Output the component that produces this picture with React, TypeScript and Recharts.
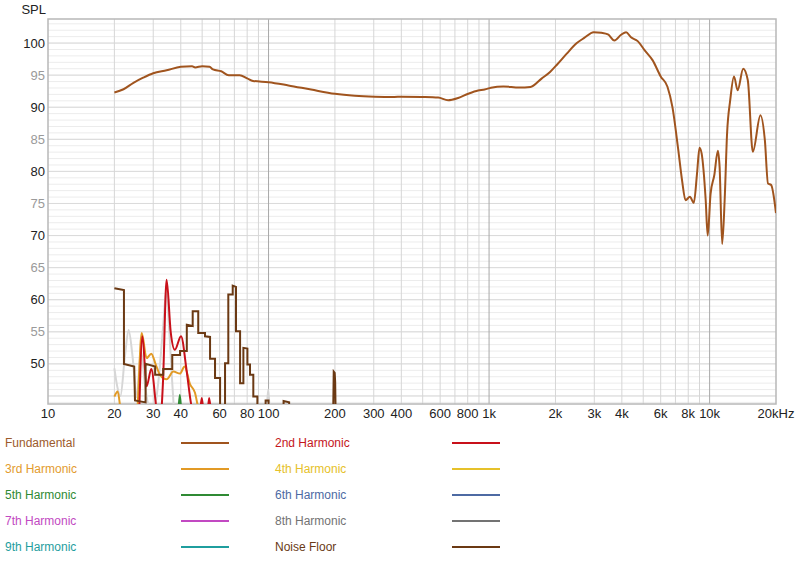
import React from "react";
import { LineChart, Line, XAxis, YAxis, CartesianGrid, ReferenceArea } from "recharts";

// ---------- data (frequency Hz, SPL dB) ----------
const fundamental: [number, number][] = [
  [20, 92.3], [22, 92.8], [24.4, 93.8], [27, 94.6], [30, 95.3], [34.5, 95.75], [40, 96.3],
  [45, 96.4], [46.5, 96.2], [50, 96.4], [54, 96.3], [56, 95.9], [61, 95.6], [66, 95.0],
  [74, 95.0], [80, 94.5], [85, 94.1], [100, 93.9], [123, 93.4], [156, 92.75], [200, 92.1],
  [246, 91.8], [303, 91.65], [372, 91.6], [400, 91.65], [494, 91.6], [588, 91.5], [652, 91.1],
  [724, 91.45], [804, 92.1], [892, 92.6], [955, 92.75], [1020, 93.05], [1160, 93.25],
  [1370, 93.06], [1540, 93.16], [1730, 94.46], [1890, 95.5], [2040, 96.7], [2250, 98.35],
  [2500, 100.0], [2700, 100.8], [2980, 101.7], [3230, 101.6], [3460, 101.35], [3700, 100.4],
  [3970, 101.3], [4180, 101.7], [4400, 100.9], [4720, 100.3], [5070, 98.9], [5520, 97.3],
  [6000, 94.8], [6440, 93.2], [6780, 90.05], [7200, 83.5], [7500, 78.6], [7780, 75.5],
  [8140, 76.05], [8480, 75.1], [8770, 79.7], [9000, 83.7], [9200, 82.8], [9600, 75.5],
  [9800, 70.0], [10100, 76.5], [10500, 79.4], [10900, 83.2], [11100, 80.7], [11400, 68.7],
  [11700, 75.5], [12000, 85.9], [12400, 91.1], [12900, 94.8], [13400, 92.65], [14200, 96.0],
  [14900, 94.2], [15700, 83.05], [17000, 88.75], [17800, 84.9], [18400, 78.1], [19000, 77.9],
  [20000, 73.5],
];

const harmonic2: [number, number][] = [
  [25.9, 42], [26.8, 54.3], [28.0, 46.5], [29.4, 49.2], [31.2, 42.5], [32.3, 41],
  [33.2, 47], [34.5, 63.1], [36.0, 55], [37.6, 52.2], [40.1, 54.3], [42.5, 49],
  [44.7, 43.5], [46.5, 42], [48.7, 42], [49.8, 44.7], [51.0, 42], [52.7, 42],
  [53.8, 44.7], [55.0, 42],
];

const harmonic3: [number, number][] = [
  [20, 44.9], [20.7, 45.7], [21.6, 42], [25.2, 42], [26.6, 54.8], [28.0, 50.9],
  [29.4, 51.6], [30.8, 49.9], [32.2, 48.3], [34.5, 47.6], [37.0, 48.8], [39.7, 48.5],
  [41.6, 49.6], [44.1, 46.8], [46.4, 45.5], [48.0, 43.2], [50, 42],
];

const harmonic4: [number, number][] = [];
const harmonic5: [number, number][] = [[38.9, 42], [39.6, 45.2], [40.3, 42]];
const harmonic6: [number, number][] = [];
const harmonic7: [number, number][] = [];
const harmonic8: [number, number][] = [
  [20, 49.3], [20.6, 46.5], [21.3, 45], [22.3, 51], [23.2, 55.3], [24.2, 51],
  [25.2, 44.8], [26.4, 52], [27.6, 46.5], [28.6, 43.5], [30.3, 43], [31.6, 47],
  [33.3, 56], [34.4, 61.5], [35.5, 55], [36.6, 47], [37.6, 42],
  [97.5, 42], [99.7, 46], [101.5, 42],
];
const harmonic9: [number, number][] = [];

const noiseFloor: [number, number][] = [
  [20, 61.8], [22.1, 61.5], [22.1, 50.0], [24.6, 49.6], [24.8, 44.3], [27.7, 44.0],
  [27.7, 50.0], [30.6, 49.6], [30.6, 48.3], [33.3, 48.3], [33.3, 49.2], [36.6, 49.2],
  [36.6, 51.4], [39.7, 51.4], [39.7, 52.0], [42.6, 52.0], [42.6, 56.1], [45.3, 55.9],
  [45.3, 58.2], [48.0, 58.2], [48.0, 54.8], [51.5, 54.8], [51.5, 54.3], [54.3, 54.2],
  [54.3, 50.8], [57.2, 50.8], [57.2, 47.8], [60.3, 47.8], [60.3, 40], [63.5, 40],
  [63.5, 50.1], [65.7, 50.1], [65.7, 60.8], [68.8, 60.8], [68.8, 62.2], [71.2, 62.0],
  [71.2, 55.1], [74.3, 55.1], [74.3, 47.0], [76.9, 47.0], [76.9, 52.5], [80.2, 52.4],
  [80.2, 49.9], [82.4, 49.9], [82.4, 48.3], [85.3, 48.3], [85.3, 44.9], [89.0, 44.9],
  [89.0, 40], [97, 40], [97, 44.3], [100, 44.3], [100, 40], [117, 40], [117, 44.2],
  [124, 44.0], [124, 40], [196, 40], [197.5, 48.8], [199.5, 48.6], [200.5, 47.2],
  [202, 40], [210, 40],
];

const xTicks = [10, 20, 30, 40, 60, 80, 100, 200, 300, 400, 600, 800, 1000, 2000, 3000, 4000, 6000, 8000, 10000, 20000];
const yTicks = [50, 55, 60, 65, 70, 75, 80, 85, 90, 95, 100];
const minorX = [20, 30, 40, 50, 60, 70, 80, 90, 200, 300, 400, 500, 600, 700, 800, 900, 2000, 3000, 4000, 5000, 6000, 7000, 8000, 9000];
const decadeX = [100, 1000, 10000];
const minorY = Array.from({ length: 60 }, (_, i) => 44 + i);
const majorY = [45, 50, 55, 60, 65, 70, 75, 80, 85, 90, 95, 100];

const X_DOMAIN: [number, number] = [10, 20000];
const Y_DOMAIN: [number, number] = [43.75, 103.75];

type Series = { name: string; data: [number, number][]; line: string; legend: string; type: "monotone" | "linear" };

const series: Series[] = [
  { name: "Fundamental", data: fundamental, line: "#a0541e", legend: "#9c5a2c", type: "monotone" },
  { name: "2nd Harmonic", data: harmonic2, line: "#c8101a", legend: "#c4161c", type: "monotone" },
  { name: "3rd Harmonic", data: harmonic3, line: "#e29a25", legend: "#e39b2e", type: "monotone" },
  { name: "4th Harmonic", data: harmonic4, line: "#e6c12a", legend: "#e6c12a", type: "monotone" },
  { name: "5th Harmonic", data: harmonic5, line: "#2f8a34", legend: "#2f8a34", type: "monotone" },
  { name: "6th Harmonic", data: harmonic6, line: "#4d6aa3", legend: "#4d6aa3", type: "monotone" },
  { name: "7th Harmonic", data: harmonic7, line: "#c249c2", legend: "#c249c2", type: "monotone" },
  { name: "8th Harmonic", data: harmonic8, line: "#d6d6d6", legend: "#737373", type: "monotone" },
  { name: "9th Harmonic", data: harmonic9, line: "#1f9e9e", legend: "#1f9e9e", type: "monotone" },
  { name: "Noise Floor", data: noiseFloor, line: "#6b3913", legend: "#6a3a16", type: "linear" },
];

const drawOrder = [0, 7, 2, 3, 4, 5, 6, 8, 1, 9];

const FONT = "'Liberation Sans', Arial, Helvetica, sans-serif";

const fmtX = (v: number) => {
  if (v === 20000) return "20kHz";
  if (v >= 1000) return `${v / 1000}k`;
  return `${v}`;
};

const XTick = (props: any) => {
  const { x, y, payload } = props;
  return (
    <text x={x} y={y} dy={14} textAnchor="middle" fontSize={13} fontFamily={FONT} fill="#222">
      {fmtX(payload.value)}
    </text>
  );
};

const YTick = (props: any) => {
  const { x, y, payload } = props;
  const v = payload.value as number;
  return (
    <text x={x} y={y} dy={4.5} textAnchor="end" fontSize={13} fontFamily={FONT} fill={v % 10 === 0 ? "#222" : "#9a9a9a"}>
      {v}
    </text>
  );
};

export default function App() {
  return (
    <div style={{ position: "absolute", left: 0, top: 0, width: 800, height: 562, background: "#fff", fontFamily: FONT }}>
      <div style={{ position: "absolute", right: 754, top: 2, fontSize: 13, color: "#222", lineHeight: "16px" }}>SPL</div>
      <LineChart width={800} height={562} margin={{ top: 19, right: 24, left: 0, bottom: 128 }}>
        <CartesianGrid horizontalValues={minorY} vertical={false} stroke="#ececec" strokeWidth={1} />
        <CartesianGrid horizontalValues={majorY} vertical={false} stroke="#dadada" strokeWidth={1} />
        <CartesianGrid verticalValues={minorX} horizontal={false} stroke="#d6d6d6" strokeWidth={1} />
        <CartesianGrid verticalValues={decadeX} horizontal={false} stroke="#a9a9a9" strokeWidth={1} />
        <XAxis
          dataKey="f"
          type="number"
          scale="log"
          domain={X_DOMAIN}
          allowDataOverflow
          ticks={xTicks}
          tick={<XTick />}
          tickLine={false}
          axisLine={false}
          tickSize={0}
          tickMargin={0}
          height={30}
          interval={0}
        />
        <YAxis
          type="number"
          domain={Y_DOMAIN}
          allowDataOverflow
          ticks={yTicks}
          tick={<YTick />}
          tickLine={false}
          axisLine={false}
          tickSize={0}
          tickMargin={3}
          width={48}
          interval={0}
        />
        <ReferenceArea x1={X_DOMAIN[0]} x2={X_DOMAIN[1]} y1={Y_DOMAIN[0]} y2={Y_DOMAIN[1]} fill="none" stroke="#b8b8b8" strokeWidth={1.5} fillOpacity={0} />
        {drawOrder.map((i) => {
          const s = series[i];
          return (
            <Line
              key={s.name}
              data={s.data.map(([f, v]) => ({ f, v }))}
              dataKey="v"
              name={s.name}
              type={s.type}
              stroke={s.line}
              strokeWidth={2}
              dot={false}
              activeDot={false}
              isAnimationActive={false}
            />
          );
        })}
      </LineChart>
      {series.map((s, i) => {
        const col = i % 2;
        const row = Math.floor(i / 2);
        const cy = 443 + row * 26;
        return (
          <React.Fragment key={s.name}>
            <div style={{ position: "absolute", left: col ? 275 : 5, top: cy - 8, fontSize: 12, lineHeight: "16px", color: s.legend, whiteSpace: "nowrap" }}>
              {s.name}
            </div>
            <div style={{ position: "absolute", left: col ? 452 : 181, top: cy - 1, width: 48, height: 2, background: s.legend === "#737373" ? "#737373" : s.line }} />
          </React.Fragment>
        );
      })}
    </div>
  );
}
